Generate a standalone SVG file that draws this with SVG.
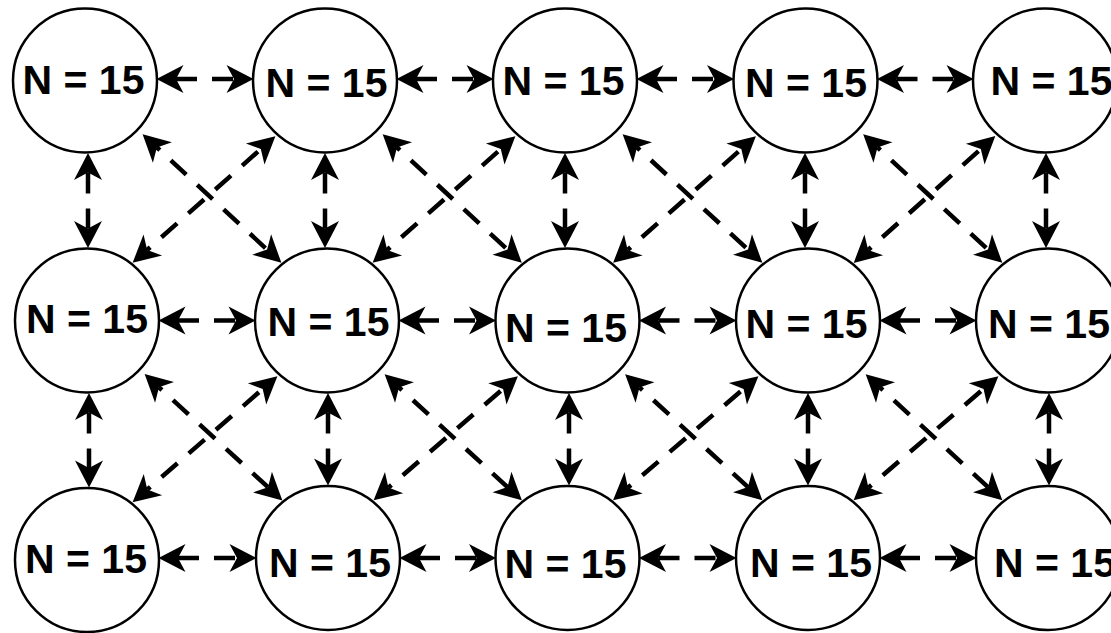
<svg xmlns="http://www.w3.org/2000/svg" width="1111" height="633" viewBox="0 0 1111 633">
<defs>
<style>
.n circle{fill:#fff;stroke:#000;stroke-width:2.5}
.n text{font-family:"Liberation Sans",Arial,sans-serif;font-weight:bold;font-size:41px;text-anchor:middle;fill:#000}
.c line{stroke:#000;stroke-width:4.5;stroke-dasharray:21 15;marker-start:url(#ah);marker-end:url(#ah)}
.c .d{stroke-dashoffset:17}
</style>
<marker id="ah" viewBox="0 -15 30 30" refX="7.5" refY="0" markerWidth="30" markerHeight="30" markerUnits="userSpaceOnUse" orient="auto-start-reverse" overflow="visible">
<path d="M27,0 L0,-14 L7.5,0 L0,14 Z" fill="#000"/>
</marker>
</defs>
<rect width="1111" height="633" fill="#fff"/>
<g id="n11" class="n"><circle cx="85" cy="80.5" r="72"/><text x="83.5" y="94">N = 15</text></g>
<g id="n12" class="n"><circle cx="325" cy="80.5" r="72"/><text x="326.5" y="97">N = 15</text></g>
<g id="n13" class="n"><circle cx="565" cy="80.5" r="72"/><text x="563.5" y="95">N = 15</text></g>
<g id="n14" class="n"><circle cx="805.5" cy="80.5" r="72"/><text x="806" y="97">N = 15</text></g>
<g id="n15" class="n"><circle cx="1045" cy="80.5" r="72"/><text x="1051.5" y="95">N = 15</text></g>
<g id="n21" class="n"><circle cx="87" cy="320.5" r="72"/><text x="87" y="333">N = 15</text></g>
<g id="n22" class="n"><circle cx="327" cy="320.5" r="72"/><text x="328.5" y="336">N = 15</text></g>
<g id="n23" class="n"><circle cx="567.5" cy="320.5" r="72"/><text x="566" y="342">N = 15</text></g>
<g id="n24" class="n"><circle cx="808" cy="320.5" r="72"/><text x="806.5" y="338">N = 15</text></g>
<g id="n25" class="n"><circle cx="1048" cy="320.5" r="72"/><text x="1049" y="338">N = 15</text></g>
<g id="n31" class="n"><circle cx="87" cy="560" r="72"/><text x="86" y="573">N = 15</text></g>
<g id="n32" class="n"><circle cx="328" cy="558" r="72"/><text x="330" y="577">N = 15</text></g>
<g id="n33" class="n"><circle cx="567.5" cy="558" r="72"/><text x="565.5" y="578">N = 15</text></g>
<g id="n34" class="n"><circle cx="808" cy="558" r="72"/><text x="811" y="577">N = 15</text></g>
<g id="n35" class="n"><circle cx="1048" cy="558" r="72"/><text x="1055" y="577">N = 15</text></g>
<g id="connectors" class="c">
<line x1="176" y1="79" x2="234" y2="79"/>
<line x1="416" y1="79" x2="474" y2="79"/>
<line x1="656" y1="79" x2="714.5" y2="79"/>
<line x1="896.5" y1="79" x2="954" y2="79"/>
<line x1="178" y1="320.5" x2="236" y2="320.5"/>
<line x1="418" y1="320.5" x2="476.5" y2="320.5"/>
<line x1="658.5" y1="320.5" x2="717" y2="320.5"/>
<line x1="899" y1="320.5" x2="957" y2="320.5"/>
<line x1="178" y1="558" x2="237" y2="558"/>
<line x1="419" y1="558" x2="476.5" y2="558"/>
<line x1="658.5" y1="558" x2="717" y2="558"/>
<line x1="899" y1="558" x2="957" y2="558"/>
<line x1="88" y1="172.5" x2="88" y2="228.5"/>
<line x1="325" y1="172.5" x2="325" y2="228.5"/>
<line x1="565" y1="172.5" x2="565" y2="228.5"/>
<line x1="805" y1="172.5" x2="805" y2="228.5"/>
<line x1="1046" y1="172.5" x2="1046" y2="228.5"/>
<line x1="89" y1="412.5" x2="89" y2="468"/>
<line x1="328" y1="412.5" x2="328" y2="466"/>
<line x1="569" y1="412.5" x2="569" y2="466"/>
<line x1="808" y1="412.5" x2="808" y2="466"/>
<line x1="1049" y1="412.5" x2="1049" y2="466"/>
<line class="d" x1="156.9" y1="147.4" x2="267.1" y2="249.6"/>
<line class="d" x1="397" y1="147.4" x2="507.5" y2="249.6"/>
<line class="d" x1="637" y1="147.4" x2="748" y2="249.6"/>
<line class="d" x1="877.5" y1="147.4" x2="988" y2="249.6"/>
<line class="d" x1="159" y1="387.3" x2="268" y2="487.2"/>
<line class="d" x1="399" y1="387.4" x2="507.5" y2="487.1"/>
<line class="d" x1="639.5" y1="387.4" x2="748" y2="487.1"/>
<line class="d" x1="880" y1="387.4" x2="988" y2="487.1"/>
<line class="d" x1="147.2" y1="249.9" x2="260.8" y2="149.1"/>
<line class="d" x1="387.2" y1="249.9" x2="500.8" y2="149.1"/>
<line class="d" x1="627.7" y1="249.9" x2="741.3" y2="149.1"/>
<line class="d" x1="868.2" y1="249.9" x2="980.8" y2="149.1"/>
<line class="d" x1="147.3" y1="489.5" x2="262.7" y2="389"/>
<line class="d" x1="388.4" y1="487.6" x2="503.1" y2="388.9"/>
<line class="d" x1="627.9" y1="487.6" x2="743.6" y2="388.9"/>
<line class="d" x1="868.4" y1="487.6" x2="983.6" y2="388.9"/>
</g>
</svg>
